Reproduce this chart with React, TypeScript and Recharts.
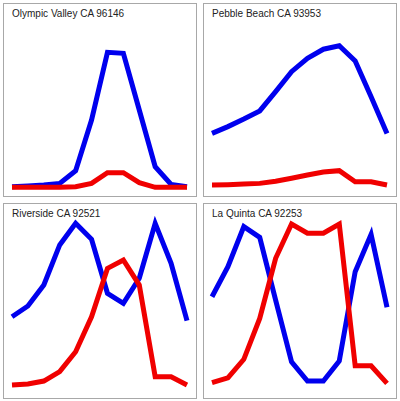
import { LineChart, Line, XAxis, YAxis } from "recharts";

const MONTHS = ["Jan","Feb","Mar","Apr","May","Jun","Jul","Aug","Sep","Oct","Nov","Dec"];

const TITLES = ["Olympic Valley CA 96146", "Pebble Beach CA 93953", "Riverside CA 92521", "La Quinta CA 92253"];

// relative index (0-100)
const olympicBlue = [0.8, 1.2, 1.8, 2.8, 10.5, 41.2, 82.2, 81.6, 47.3, 12.9, 2.2, 0.8];
const olympicRed = [0.4, 0.4, 0.4, 0.4, 0.8, 2.8, 9.3, 9.3, 3.2, 0.4, 0.4, 0.4];
const pebbleBlue = [33.1, 37.2, 41.8, 46.7, 58.4, 70.5, 78.6, 84.1, 86.2, 77.0, 55.3, 33.1];
const pebbleRed = [1.8, 2.0, 2.4, 2.8, 4.1, 5.9, 7.9, 9.7, 10.5, 3.8, 3.8, 1.8];
const riversideBlue = [43.2, 49.7, 62.4, 86.7, 99.8, 90.1, 57.4, 51.3, 66.5, 99.8, 75.6, 40.8];
const riversideRed = [1.8, 2.4, 4.2, 9.9, 22.0, 43.2, 72.5, 77.6, 62.4, 6.8, 6.8, 1.8];
const quintaBlue = [55.3, 73.5, 97.8, 91.3, 53.3, 15.9, 4.2, 4.2, 16.4, 70.5, 93.1, 48.9];
const quintaRed = [3.2, 6.2, 17.4, 42.2, 78.6, 99.4, 93.8, 93.8, 99.4, 13.5, 13.5, 2.8];

const SERIES = [
  [olympicBlue, olympicRed],
  [pebbleBlue, pebbleRed],
  [riversideBlue, riversideRed],
  [quintaBlue, quintaRed],
];

const POS = [
  { left: 3, top: 3, h: 194 },
  { left: 203, top: 3, h: 194 },
  { left: 3, top: 203, h: 196 },
  { left: 203, top: 203, h: 196 },
];

function Panel({ idx }: { idx: number }) {
  const [blue, red] = SERIES[idx];
  const data = MONTHS.map((m, i) => ({ m, blue: blue[i], red: red[i] }));
  const p = POS[idx];
  const inner = p.h - 2;
  return (
    <div style={{
      position: "absolute", left: p.left, top: p.top, width: 194, height: p.h,
      boxSizing: "border-box", border: "1px solid #a8a8a8", background: "#fff",
    }}>
      <LineChart width={192} height={inner} data={data}
        margin={{ top: 19, right: 9, left: 8, bottom: inner - 184 }}>
        <XAxis dataKey="m" hide />
        <YAxis hide domain={[0, 100]} />
        <Line dataKey="blue" stroke="#0000ee" strokeWidth={5} dot={false} isAnimationActive={false} strokeLinejoin="miter" />
        <Line dataKey="red" stroke="#f00000" strokeWidth={5} dot={false} isAnimationActive={false} strokeLinejoin="miter" />
      </LineChart>
      <div style={{
        position: "absolute", left: 8, top: 4, fontSize: 10, lineHeight: "12px",
        fontFamily: "'Liberation Sans', Arial, sans-serif", color: "#222", whiteSpace: "nowrap",
      }}>{TITLES[idx]}</div>
    </div>
  );
}

export default function App() {
  return (
    <div style={{ position: "fixed", left: 0, top: 0, width: 400, height: 401, background: "#fff" }}>
      {[0, 1, 2, 3].map(i => <Panel key={i} idx={i} />)}
    </div>
  );
}
